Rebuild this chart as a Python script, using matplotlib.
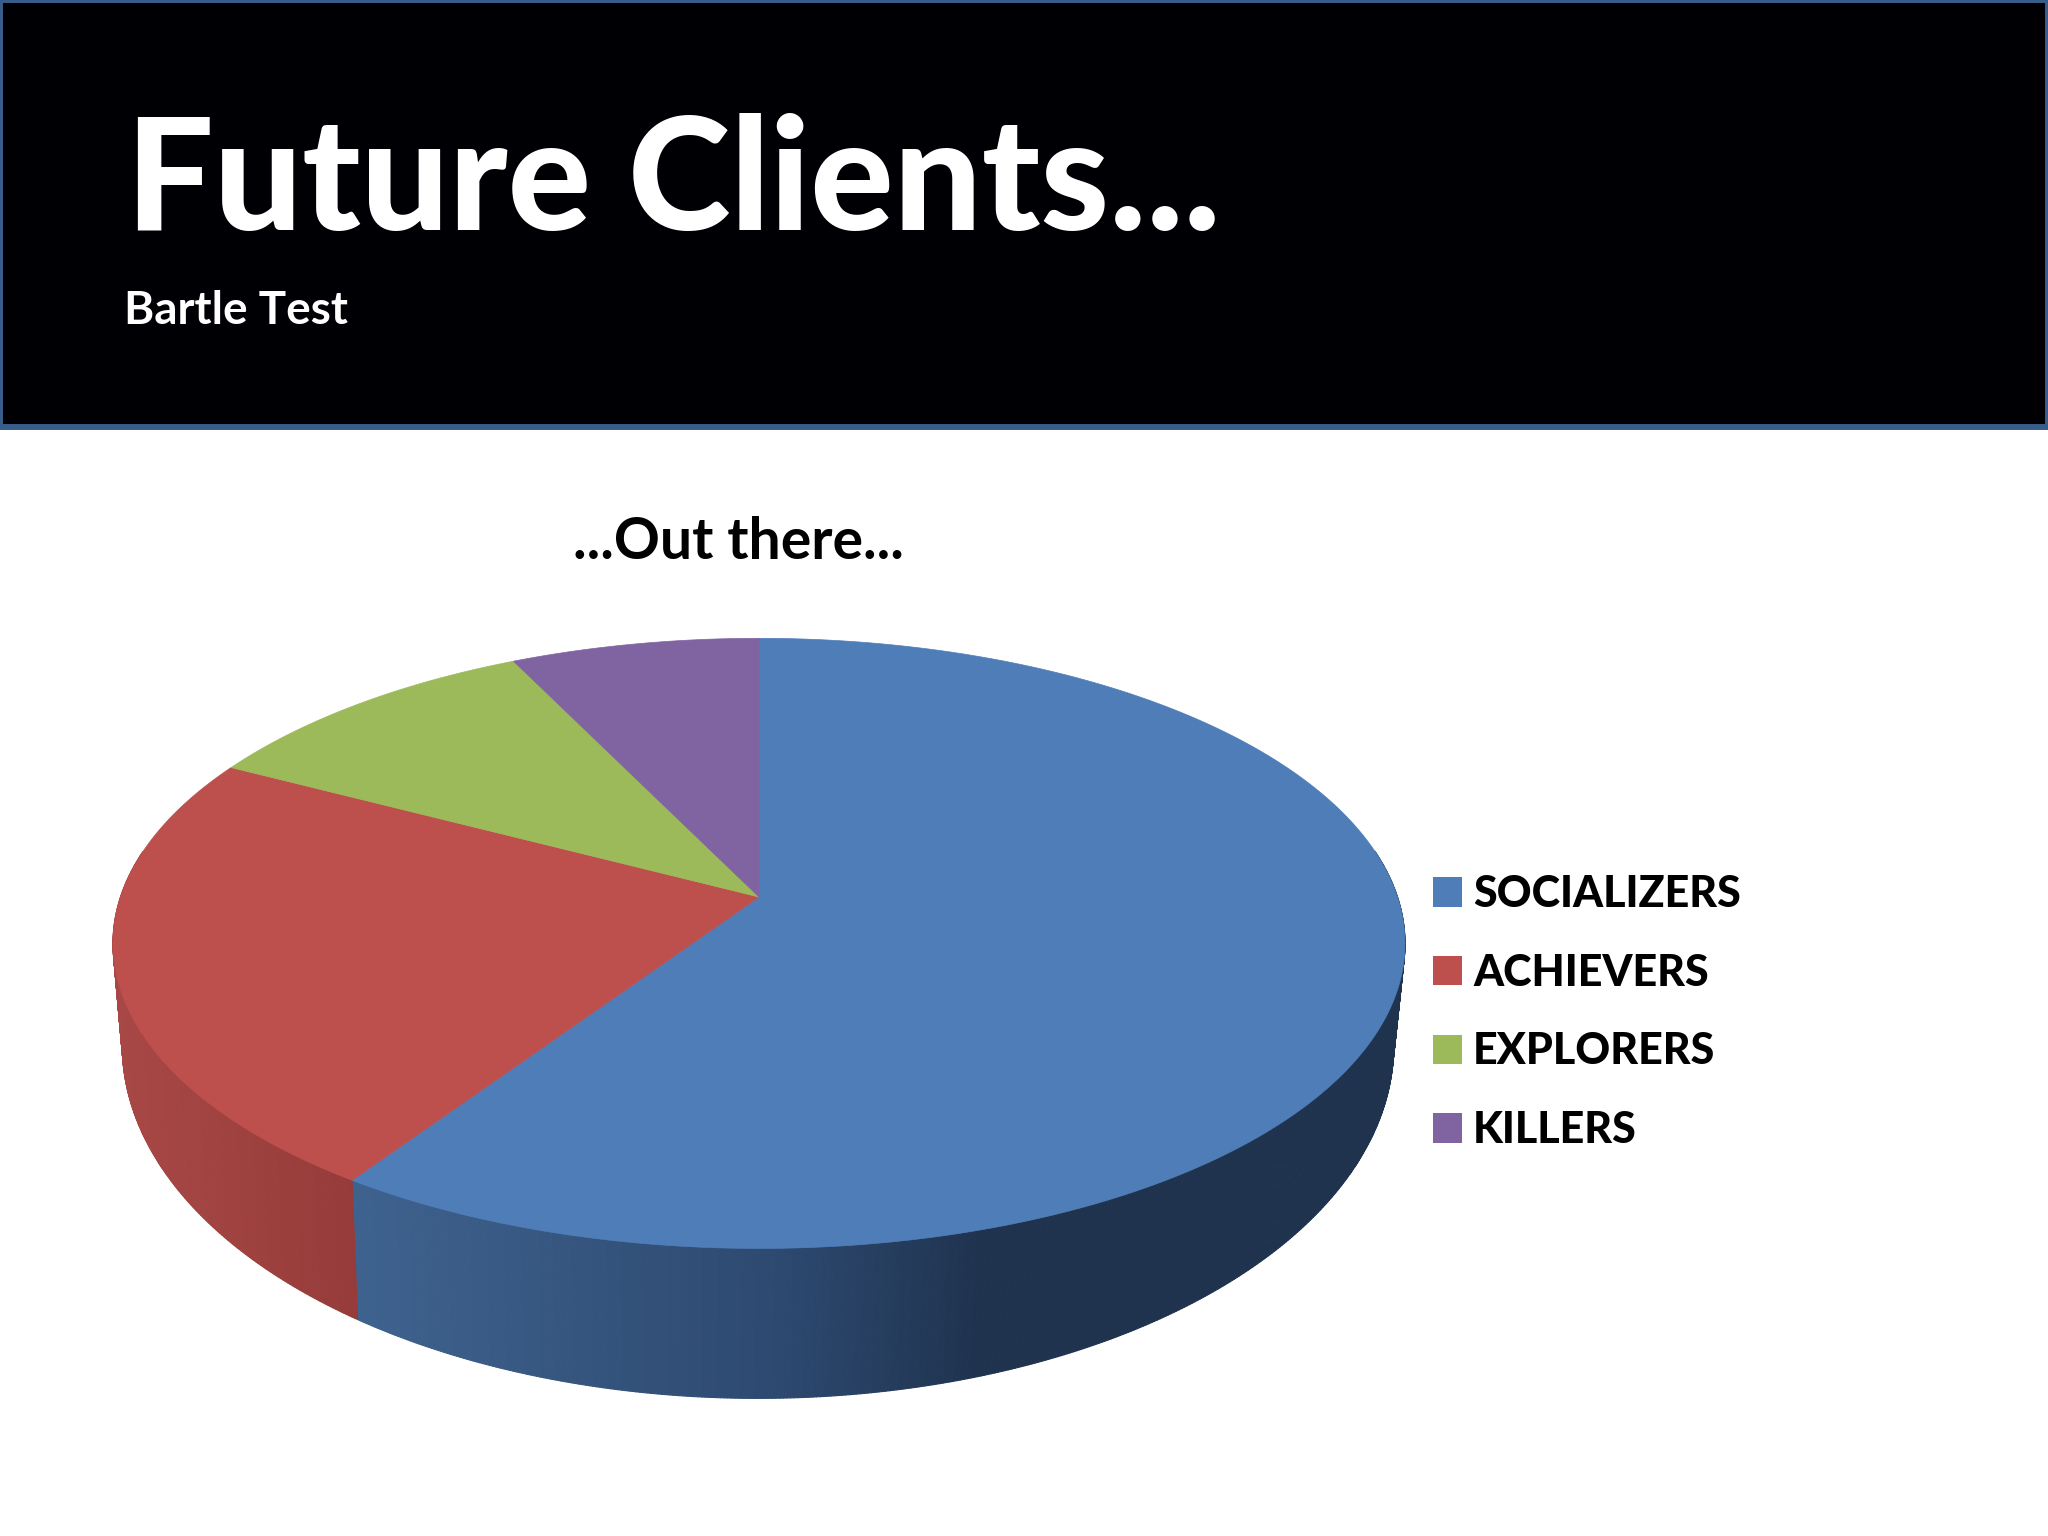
#!/usr/bin/env python3

import matplotlib
# Use a non-interactive backend
matplotlib.use("AGG")
import matplotlib.pyplot as plt
from matplotlib.collections import PolyCollection
from matplotlib.patches import Patch, Rectangle
import numpy as np

labels = ["SOCIALIZERS", "ACHIEVERS", "EXPLORERS", "KILLERS"]
shares = [59.4, 23.3, 10.1, 7.2]
top_colors = ["#4f7db8", "#bd4f4c", "#9dba5a", "#8064a2"]

# Side wall shade, left end to right end of the wall in picture x
wall_stops_x = [114, 360, 780, 980, 1405]
wall_stops = {
    0: [(0x46, 0x6f, 0xa0), (0x3e, 0x62, 0x8e), (0x2d, 0x49, 0x70), (0x1f, 0x33, 0x4f), (0x1f, 0x33, 0x4f)],
    1: [(0xa8, 0x48, 0x46), (0x95, 0x3b, 0x39), (0x8a, 0x36, 0x34), (0x80, 0x30, 0x30), (0x80, 0x30, 0x30)],
}

title = "Future Clients..."
subtitle = "Bartle Test"
chart_title = "...Out there..."

plt.rcParams["font.family"] = ["Lato", "DejaVu Sans"]

fig = plt.figure(figsize=(20.48, 15.36), dpi=100, facecolor="white")
ax = fig.add_axes([0, 0, 1, 1])
ax.set_xlim(0, 2048)
ax.set_ylim(1536, 0)
ax.axis("off")

# Header band
ax.add_patch(Rectangle((0, 0), 2048, 427, facecolor="#000004", edgecolor="#385d8a", linewidth=4.3))
ax.text(126, 230, title, color="white", fontsize=112, fontweight=900, va="baseline")
ax.text(124, 324, subtitle, color="white", fontsize=33, fontweight="bold", va="baseline")
ax.text(738, 559, chart_title, color="black", fontsize=41, fontweight="bold", va="baseline", ha="center")

# Perspective of the pie top: apex of the slices, and the foreshortening
apex_x, apex_y = 759.0, 897.0
scale_x, scale_y, tilt = 638.5, 298.0, 0.152
top_center = np.array([759.5, 943.0])
# The lower rim is a flatter-shouldered ellipse, not just a shifted copy
low_center = np.array([758.5, 1045.0])
low_scale = np.array([0.984, 1.157])


def rim(theta):
    # theta is clockwise from 12 o'clock, in radians
    x, y = np.sin(theta), np.cos(theta)
    w = 1 + tilt * y
    return np.column_stack([apex_x + scale_x * x / w, apex_y - scale_y * y / w])


def low_rim(theta):
    return low_center + low_scale * (rim(theta) - top_center)


edges = np.cumsum([0] + shares) / sum(shares) * 2 * np.pi

# Side wall first, as thin strips so the shade can change along it
for i in range(len(shares)):
    start = max(edges[i], np.pi * 0.45)
    end = min(edges[i + 1], np.pi * 1.55)
    if end <= start:
        continue
    steps = np.linspace(start, end, int((end - start) * 200) + 2)
    upper, lower = rim(steps), low_rim(steps)
    quads = [[upper[j], upper[j + 1], lower[j + 1], lower[j]] for j in range(len(steps) - 1)]
    mid_x = (upper[:-1, 0] + upper[1:, 0]) / 2
    shades = np.column_stack([
        np.interp(mid_x, wall_stops_x, [c[k] for c in wall_stops[i]]) / 255 for k in range(3)
    ])
    ax.add_collection(PolyCollection(quads, facecolors=shades, edgecolors=shades, linewidths=0.8))

# Top face of the slices
for i in range(len(shares)):
    steps = np.linspace(edges[i], edges[i + 1], int((edges[i + 1] - edges[i]) * 120) + 2)
    outline = np.vstack([[[apex_x, apex_y]], rim(steps)])
    ax.fill(outline[:, 0], outline[:, 1], facecolor=top_colors[i], edgecolor=top_colors[i], linewidth=0.5)

handles = [Patch(facecolor=c, edgecolor="none") for c in top_colors]
leg = ax.legend(handles, labels, loc="upper left", bbox_to_anchor=(1433 / 2048, 1 - 874 / 1536),
                frameon=False, handlelength=0.67, handleheight=0.67,
                handletextpad=0.26, labelspacing=0.9, borderpad=0, borderaxespad=0,
                prop={"family": ["Lato", "DejaVu Sans"], "weight": 900, "size": 31})

plt.savefig("out.png", dpi=100)
